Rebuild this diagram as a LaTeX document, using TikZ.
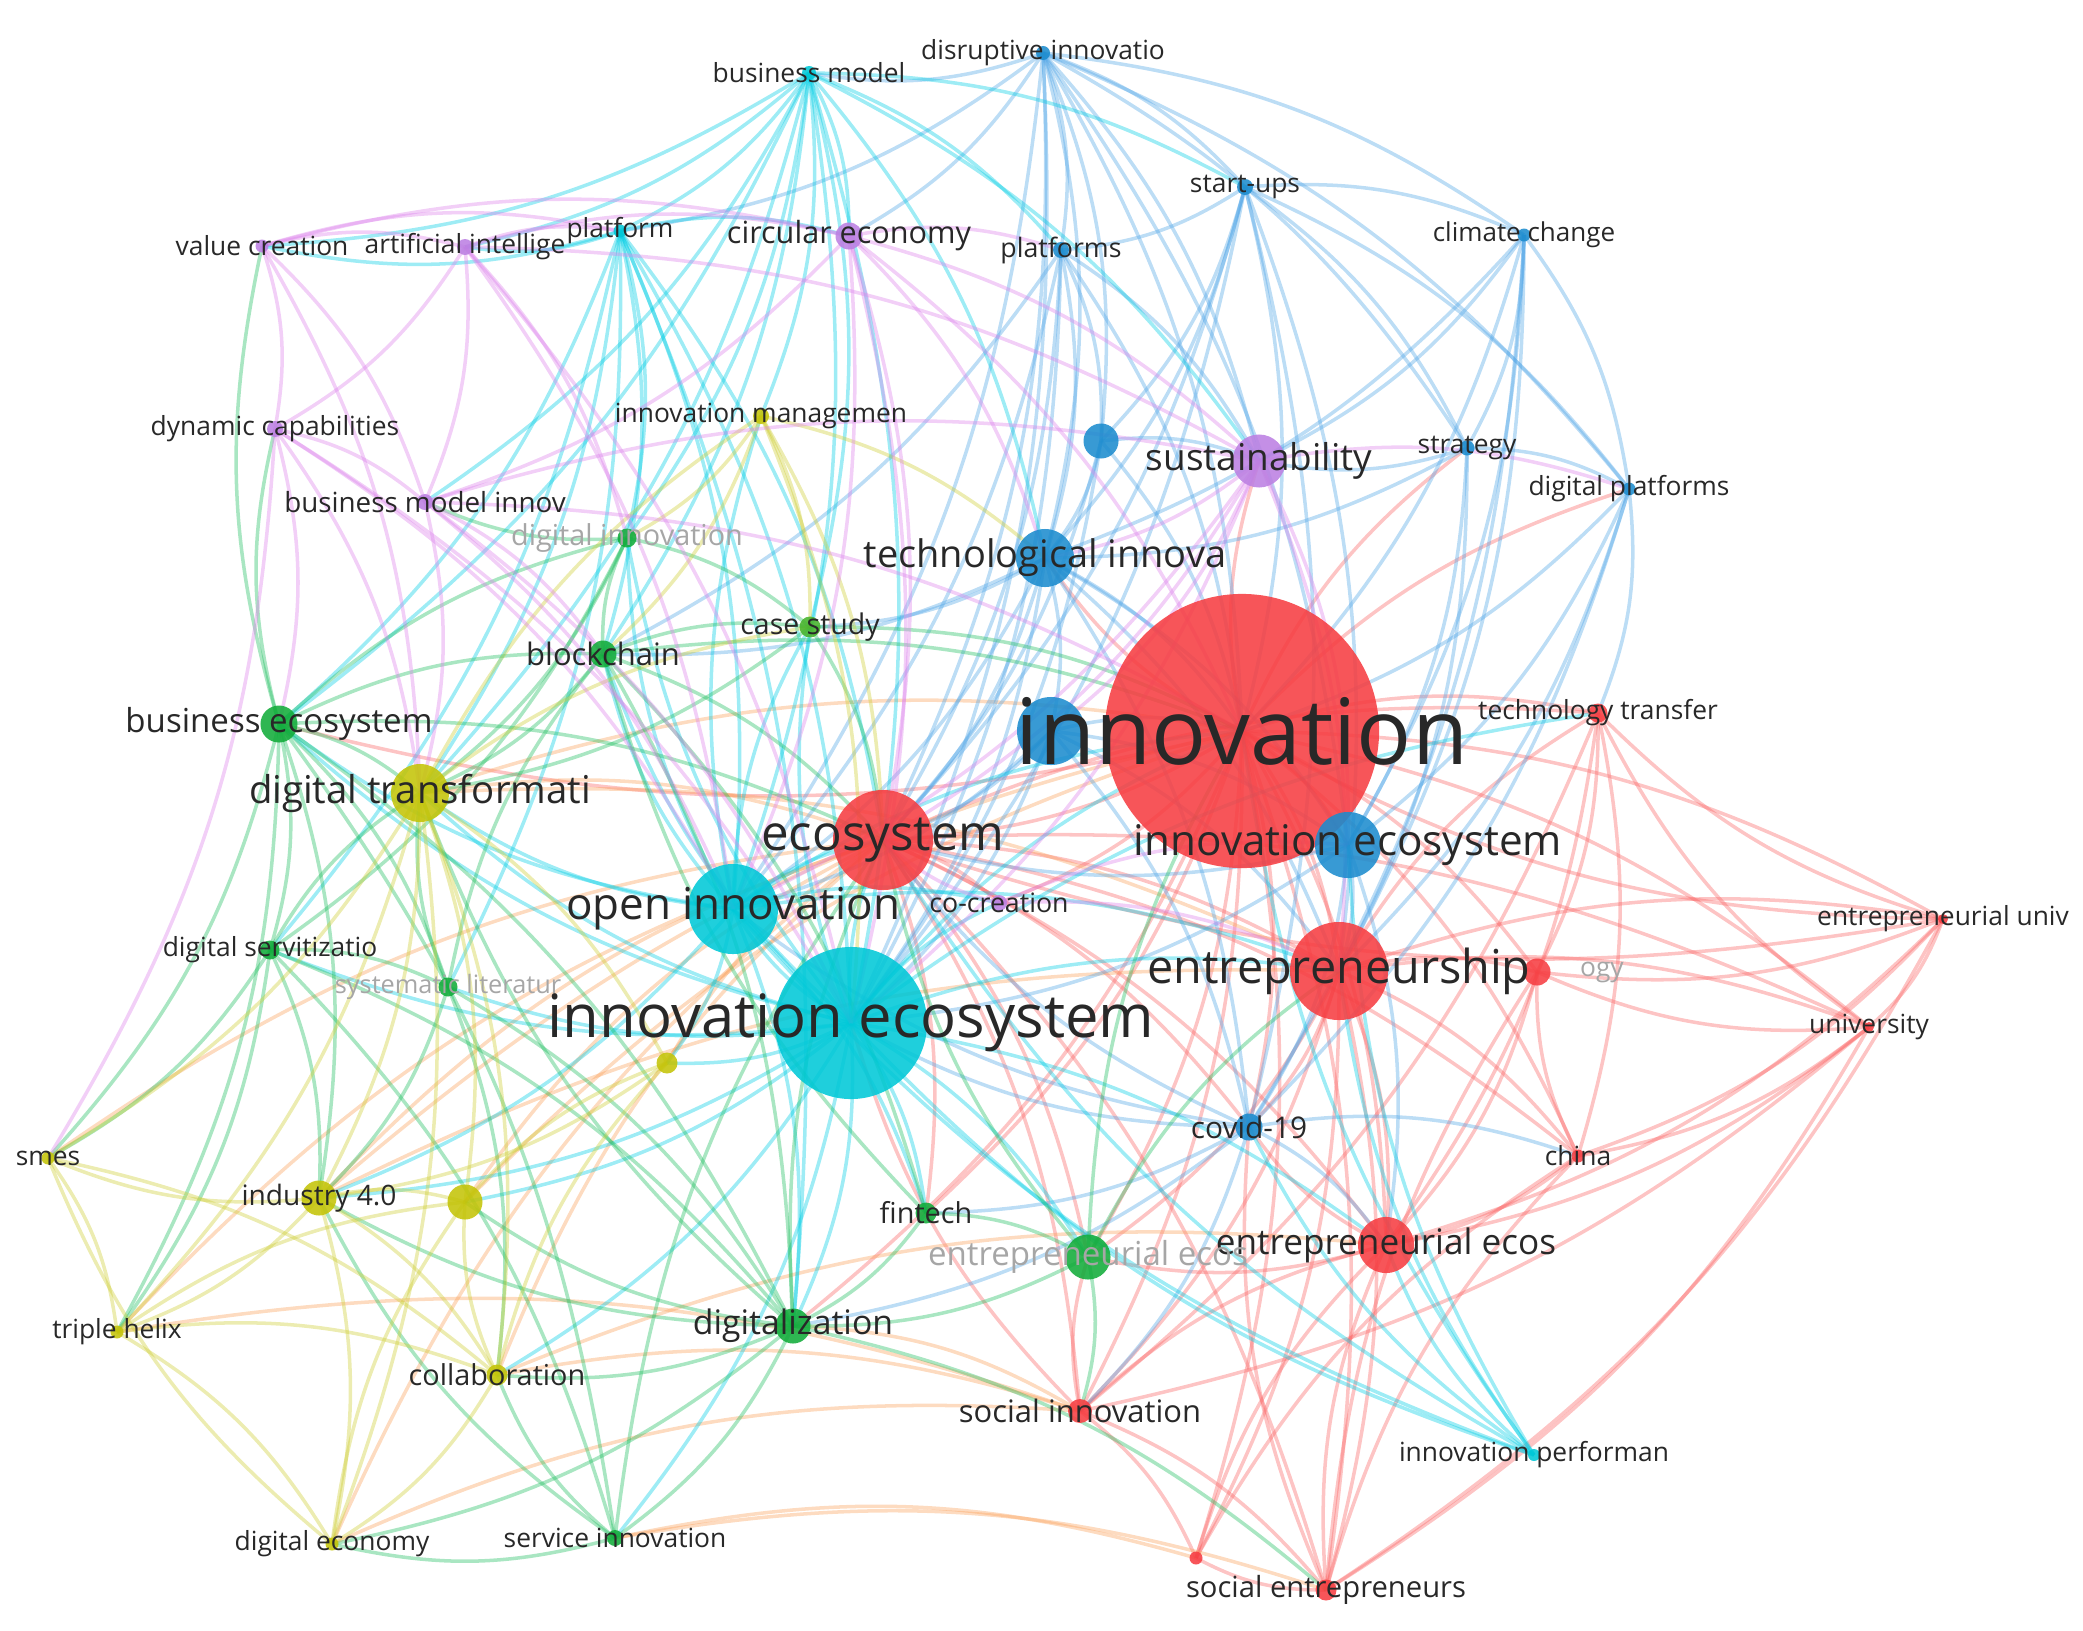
\documentclass[tikz,border=0pt]{standalone}
\usepackage{fontspec}
\setmainfont{Open Sans}
\usepackage{tikz}
\usetikzlibrary{backgrounds}

\definecolor{cRed}{RGB}{246,62,66}
\definecolor{cBlue}{RGB}{28,140,206}
\definecolor{cCyan}{RGB}{0,200,215}
\definecolor{cGreen}{RGB}{18,172,58}
\definecolor{cYellow}{RGB}{196,196,8}
\definecolor{cPurple}{RGB}{188,128,226}
\definecolor{eRed}{RGB}{250,100,100}
\definecolor{eBlue}{RGB}{80,165,230}
\definecolor{eCyan}{RGB}{0,205,228}
\definecolor{eGreen}{RGB}{30,190,95}
\definecolor{eYellow}{RGB}{205,205,50}
\definecolor{ePurple}{RGB}{220,130,235}
\definecolor{eOrange}{RGB}{250,160,90}
\definecolor{txt}{RGB}{40,40,40}

\tikzset{
  kw/.style={circle, inner sep=0pt, draw=none, fill opacity=.88},
  kwred/.style={kw, fill=cRed, minimum size=#1},
  kwblue/.style={kw, fill=cBlue, minimum size=#1},
  kwcyan/.style={kw, fill=cCyan, minimum size=#1},
  kwgreen/.style={kw, fill=cGreen, minimum size=#1},
  kwyellow/.style={kw, fill=cYellow, minimum size=#1},
  kwpurple/.style={kw, fill=cPurple, minimum size=#1},
  lbl/.style={text=txt, inner sep=0pt, font=\fontsize{#1pt}{#1pt}\selectfont},
  faint/.style={lbl=#1, text=black!35},
  lnk/.style={line width=1pt, draw opacity=.38},
  redge/.style={lnk, draw=eRed},
  bedge/.style={lnk, draw=eBlue},
  cedge/.style={lnk, draw=eCyan},
  gedge/.style={lnk, draw=eGreen},
  yedge/.style={lnk, draw=eYellow},
  pedge/.style={lnk, draw=ePurple},
  oedge/.style={lnk, draw=eOrange},
}

\begin{document}
\begin{tikzpicture}[x=0.01cm, y=-0.01cm]
\useasboundingbox (0,0) rectangle (2083,1630);

% red cluster
\node[kwred=2.74cm] (innov) at (1242,731) {};
\node[kwred=1.0cm] (eco) at (883,840) {};
\node[kwred=0.98cm] (entr) at (1339,971) {};
\node[kwred=0.56cm] (entreco) at (1386,1245) {};
\node[kwred=0.19cm] (techtr) at (1598,713) {};
\node[kwred=0.1cm] (entruniv) at (1943,919) {};
\node[kwred=0.1cm] (univ) at (1869,1027) {};
\node[kwred=0.13cm] (china) at (1578,1156) {};
\node[kwred=0.27cm] (ogy) at (1537,972) {};
\node[kwred=0.24cm] (socinn) at (1080,1411) {};
\node[kwred=0.21cm] (socent) at (1326,1590) {};
\node[kwred=0.13cm] (bioec) at (1196,1558) {};
% blue cluster
\node[kwblue=0.58cm] (techinn) at (1045,558) {};
\node[kwblue=0.68cm] (bluehub) at (1051,731) {};
\node[kwblue=0.66cm] (blueeco) at (1348,845) {};
\node[kwblue=0.35cm] (bluetop) at (1101,441) {};
\node[kwblue=0.16cm] (startups) at (1245,187) {};
\node[kwblue=0.13cm] (climate) at (1524,235) {};
\node[kwblue=0.15cm] (strategy) at (1467,448) {};
\node[kwblue=0.13cm] (digplat) at (1629,489) {};
\node[kwblue=0.16cm] (platforms) at (1061,250) {};
\node[kwblue=0.14cm] (disrupt) at (1043,53) {};
\node[kwblue=0.27cm] (covid) at (1249,1127) {};
% cyan cluster
\node[kwcyan=1.52cm] (ieco) at (851,1023) {};
\node[kwcyan=0.9cm] (openi) at (733,909) {};
\node[kwcyan=0.14cm] (bmodel) at (809,73) {};
\node[kwcyan=0.13cm] (platform) at (620,231) {};
\node[kwcyan=0.12cm] (innperf) at (1534,1455) {};
% purple cluster
\node[kwpurple=0.13cm] (valcr) at (262,246) {};
\node[kwpurple=0.16cm] (ai) at (465,247) {};
\node[kwpurple=0.27cm] (circ) at (849,236) {};
\node[kwpurple=0.16cm] (dyncap) at (275,429) {};
\node[kwpurple=0.16cm] (bmi) at (425,502) {};
\node[kwpurple=0.53cm] (sust) at (1259,461) {};
\node[kwpurple=0.16cm] (cocr) at (999,903) {};
% green cluster
\node[kwgreen=0.19cm] (diginn) at (627,538) {};
\node[kwgreen=0.27cm] (blockch) at (603,654) {};
\node[kwgreen=0.37cm] (busec) at (279,724) {};
\node[kwgreen=0.21cm, fill=cGreen!70!cYellow] (casest) at (810,627) {};
\node[kwgreen=0.19cm] (digserv) at (270,950) {};
\node[kwgreen=0.19cm] (syslit) at (448,987) {};
\node[kwgreen=0.21cm] (fintech) at (926,1213) {};
\node[kwgreen=0.45cm] (greneco) at (1088,1257) {};
\node[kwgreen=0.35cm] (digit) at (793,1326) {};
\node[kwgreen=0.16cm] (servinn) at (615,1538) {};
% yellow cluster
\node[kwyellow=0.58cm] (dtrans) at (420,793) {};
\node[kwyellow=0.35cm] (ind40) at (319,1198) {};
\node[kwyellow=0.35cm] (yelA) at (465,1202) {};
\node[kwyellow=0.21cm] (yelB) at (667,1063) {};
\node[kwyellow=0.13cm] (smes) at (48,1158) {};
\node[kwyellow=0.13cm] (triple) at (117,1332) {};
\node[kwyellow=0.21cm] (collab) at (497,1375) {};
\node[kwyellow=0.13cm] (digecon) at (332,1544) {};
\node[kwyellow=0.16cm] (innman) at (761,416) {};

% links
\begin{scope}[on background layer]
\foreach \a/\b in {innov/eco, innov/entr, innov/entreco, innov/techtr, innov/entruniv, innov/univ, innov/china, innov/ogy, innov/socinn, innov/socent, innov/bioec, innov/blueeco, innov/techinn, innov/sust, innov/fintech, innov/greneco, innov/digit, innov/busec, innov/cocr, innov/covid, innov/strategy, innov/digplat,
  eco/entr, eco/entreco, eco/socinn, eco/socent, eco/techtr, eco/greneco, eco/fintech, eco/covid, eco/cocr, eco/univ, eco/china,
  entr/entreco, entr/entruniv, entr/univ, entr/china, entr/ogy, entr/socinn, entr/socent, entr/techtr, entr/bioec, entr/covid, entr/greneco,
  entruniv/univ, entruniv/ogy, entruniv/techtr, entruniv/china, entruniv/entreco, entruniv/socent, entruniv/eco, entruniv/innov,
  univ/techtr, univ/ogy, univ/china, univ/entreco, univ/socent, univ/socinn,
  techtr/ogy, techtr/china, techtr/entreco, techtr/socinn,
  socinn/socent, socinn/bioec, socinn/entreco, socinn/greneco, socinn/ieco,
  socent/bioec, socent/entreco, socent/ogy, socent/china, socent/covid,
  bioec/entreco, bioec/china, china/entreco, china/ogy, ogy/entreco, entreco/greneco, entreco/covid}
  \draw[redge] (\a.center) to[bend left=14] (\b.center);
\foreach \a/\b in {dtrans/eco, ind40/eco, collab/eco, digecon/eco, yelA/eco, yelB/eco, smes/eco, ind40/innov, collab/socinn, servinn/socent, digecon/socinn, triple/eco, dtrans/entr, yelA/innov, digit/socinn, servinn/bioec, collab/entreco, triple/socinn, ind40/entr, dtrans/innov}
  \draw[oedge] (\a.center) to[bend left=14] (\b.center);
\foreach \a/\b in {disrupt/bmodel, disrupt/startups, disrupt/climate, disrupt/platforms, disrupt/techinn, disrupt/innov, disrupt/blueeco, disrupt/sust, disrupt/bluetop, disrupt/strategy, disrupt/digplat, disrupt/ieco, disrupt/openi, disrupt/eco, disrupt/circ, disrupt/platform,
  startups/innov, startups/techinn, startups/climate, startups/strategy, startups/digplat, startups/platforms, startups/entr, startups/covid, startups/bluetop, startups/eco, startups/ieco,
  climate/strategy, climate/digplat, climate/innov, climate/blueeco, climate/techinn, climate/covid, climate/entr, climate/sust,
  strategy/digplat, strategy/blueeco, strategy/sust, strategy/techinn, strategy/entr,
  digplat/innov, digplat/entr, digplat/blueeco, digplat/techtr, digplat/covid,
  platforms/techinn, platforms/innov, platforms/eco, platforms/openi, platforms/ieco, platforms/bluetop, platforms/sust, platforms/blockch,
  bluetop/techinn, bluetop/innov, bluetop/sust, bluetop/eco, bluetop/ieco,
  techinn/innov, techinn/eco, techinn/ieco, techinn/openi, techinn/bluehub, techinn/entr, techinn/blueeco, techinn/casest, techinn/covid, techinn/blockch,
  bluehub/innov, bluehub/eco, bluehub/ieco, bluehub/openi, bluehub/covid, bluehub/entr, bluehub/blueeco,
  blueeco/entr, blueeco/eco, blueeco/ieco, blueeco/covid, blueeco/entreco,
  covid/ieco, covid/eco, covid/entreco, covid/digit, covid/china, covid/socinn, covid/openi, covid/fintech}
  \draw[bedge] (\a.center) to[bend left=14] (\b.center);
\foreach \a/\b in {bmodel/platform, bmodel/ai, bmodel/valcr, bmodel/circ, bmodel/platforms, bmodel/blockch, bmodel/busec, bmodel/dtrans, bmodel/openi, bmodel/ieco, bmodel/techinn, bmodel/sust, bmodel/casest, bmodel/innman, bmodel/diginn, bmodel/bmi, bmodel/startups,
  platform/openi, platform/ieco, platform/busec, platform/digserv, platform/dtrans, platform/blockch, platform/diginn, platform/valcr, platform/ai, platform/circ, platform/eco, platform/digit, platform/syslit,
  ieco/eco, ieco/innov, ieco/openi, ieco/entr, ieco/dtrans, ieco/busec, ieco/blockch, ieco/digit, ieco/fintech, ieco/greneco, ieco/syslit, ieco/digserv, ieco/ind40, ieco/collab, ieco/servinn, ieco/casest, ieco/yelA, ieco/yelB, ieco/entreco, ieco/cocr, ieco/diginn, ieco/techtr,
  innperf/ieco, innperf/openi, innperf/innov, innperf/entr, innperf/eco, innperf/covid, innperf/entreco, innperf/blueeco,
  openi/eco, openi/innov, openi/busec, openi/dtrans, openi/blockch, openi/digit, openi/ind40, openi/casest, openi/diginn, openi/innman, openi/entr, openi/yelB, openi/cocr, openi/fintech}
  \draw[cedge] (\a.center) to[bend left=14] (\b.center);
\foreach \a/\b in {busec/dtrans, busec/digserv, busec/blockch, busec/ind40, busec/smes, busec/triple, busec/valcr, busec/dyncap, busec/digit, busec/eco, busec/syslit, busec/diginn, busec/servinn,
  blockch/diginn, blockch/dtrans, blockch/digit, blockch/fintech, blockch/eco, blockch/innov, blockch/casest,
  diginn/dtrans, diginn/casest, diginn/digserv, diginn/bmi,
  digserv/dtrans, digserv/syslit, digserv/ind40, digserv/smes, digserv/triple, digserv/digit, digserv/servinn,
  syslit/digit, syslit/ind40, syslit/dtrans, syslit/blockch, syslit/collab,
  fintech/digit, fintech/greneco, fintech/blockch,
  greneco/eco, greneco/entr, greneco/digit, greneco/innov, greneco/socinn,
  digit/ind40, digit/collab, digit/servinn, digit/eco, digit/digecon, digit/dtrans, digit/yelA, digit/socent,
  servinn/collab, servinn/digecon, servinn/eco, servinn/ind40,
  casest/eco, casest/innov, casest/dtrans}
  \draw[gedge] (\a.center) to[bend left=14] (\b.center);
\foreach \a/\b in {dtrans/ind40, dtrans/yelA, dtrans/yelB, dtrans/smes, dtrans/collab, dtrans/innman, dtrans/casest, dtrans/digecon, dtrans/triple,
  ind40/smes, ind40/triple, ind40/collab, ind40/digecon, ind40/yelA,
  smes/triple, digecon/smes, smes/collab,
  triple/collab, triple/yelA, triple/digecon,
  collab/digecon, collab/yelA, collab/yelB,
  digecon/yelA, yelA/yelB, yelB/ind40,
  innman/casest, innman/diginn, innman/blockch, innman/techinn, innman/ieco, innman/eco}
  \draw[yedge] (\a.center) to[bend left=14] (\b.center);
\foreach \a/\b in {valcr/ai, valcr/dyncap, valcr/bmi, valcr/platform, valcr/circ, valcr/dtrans, dyncap/smes,
  ai/platform, ai/circ, ai/dyncap, ai/bmi, ai/diginn, ai/ieco, ai/openi, ai/sust,
  circ/sust, circ/platforms, circ/ieco, circ/openi, circ/innov, circ/bmi, circ/eco, circ/techinn,
  dyncap/bmi, dyncap/busec, dyncap/dtrans, dyncap/openi, dyncap/ieco,
  bmi/sust, bmi/openi, bmi/ieco, bmi/dtrans, bmi/innov, bmi/blockch,
  sust/entr, sust/techinn, sust/blueeco, sust/eco, sust/ieco, sust/openi, sust/digplat, sust/bluehub,
  cocr/eco, cocr/entr, cocr/blueeco}
  \draw[pedge] (\a.center) to[bend left=14] (\b.center);
\end{scope}

% labels
\node[lbl=26] at (innov) {innovation};
\node[lbl=17] at (ieco) {innovation ecosystem};
\node[lbl=14] at (eco) {ecosystem};
\node[lbl=13.3] at (entr) {entrepreneurship};
\node[lbl=12.5] at (openi) {open innovation};
\node[lbl=12] at (blueeco) {innovation ecosystem};
\node[lbl=10.8] at (techinn) {technological innova};
\node[lbl=10.9] at (dtrans) {digital transformati};
\node[lbl=10.5] at (sust) {sustainability};
\node[lbl=10] at (entreco) {entrepreneurial ecos};
\node[faint=9.4] at (greneco) {entrepreneurial ecos};
\node[lbl=9.4] at (busec) {business ecosystem};
\node[lbl=9.6] at (digit) {digitalization};
\node[lbl=8.8] at (blockch) {blockchain};
\node[lbl=8.8] at (socinn) {social innovation};
\node[lbl=8.7] at (circ) {circular economy};
\node[lbl=8.3] at (socent) {social entrepreneurs};
\node[lbl=8.2] at (collab) {collaboration};
\node[lbl=8] at (ind40) {industry 4.0};
\node[lbl=8.5] at (covid) {covid-19};
\node[lbl=8.1] at (casest) {case study};
\node[lbl=8.2] at (fintech) {fintech};
\node[faint=8.2] at (diginn) {digital innovation};
\node[faint=7.2] at (syslit) {systematic literatur};
\node[lbl=7.6] at (cocr) {co-creation};
\node[lbl=7.5] at (innman) {innovation managemen};
\node[lbl=7.6] at (platforms) {platforms};
\node[lbl=7.5] at (platform) {platform};
\node[lbl=7.5] at (bmodel) {business model};
\node[lbl=7.5] at (disrupt) {disruptive innovatio};
\node[lbl=7.5] at (startups) {start-ups};
\node[lbl=7.4] at (climate) {climate change};
\node[lbl=7.5] at (strategy) {strategy};
\node[lbl=7.5] at (digplat) {digital platforms};
\node[lbl=7.5] at (techtr) {technology transfer};
\node[lbl=7.5] at (entruniv) {entrepreneurial univ};
\node[lbl=7.5] at (univ) {university};
\node[lbl=7.5] at (china) {china};
\node[lbl=7.5] at (innperf) {innovation performan};
\node[lbl=7.5] at (valcr) {value creation};
\node[lbl=7.5] at (ai) {artificial intellige};
\node[lbl=7.5] at (dyncap) {dynamic capabilities};
\node[lbl=7.9] at (bmi) {business model innov};
\node[lbl=7.5] at (digserv) {digital servitizatio};
\node[lbl=7.5] at (smes) {smes};
\node[lbl=7.5] at (triple) {triple helix};
\node[lbl=7.5] at (digecon) {digital economy};
\node[lbl=7.5] at (servinn) {service innovation};
\node[faint=7.5, anchor=west] at ([xshift=8]ogy.east) {ogy};
\end{tikzpicture}
\end{document}
